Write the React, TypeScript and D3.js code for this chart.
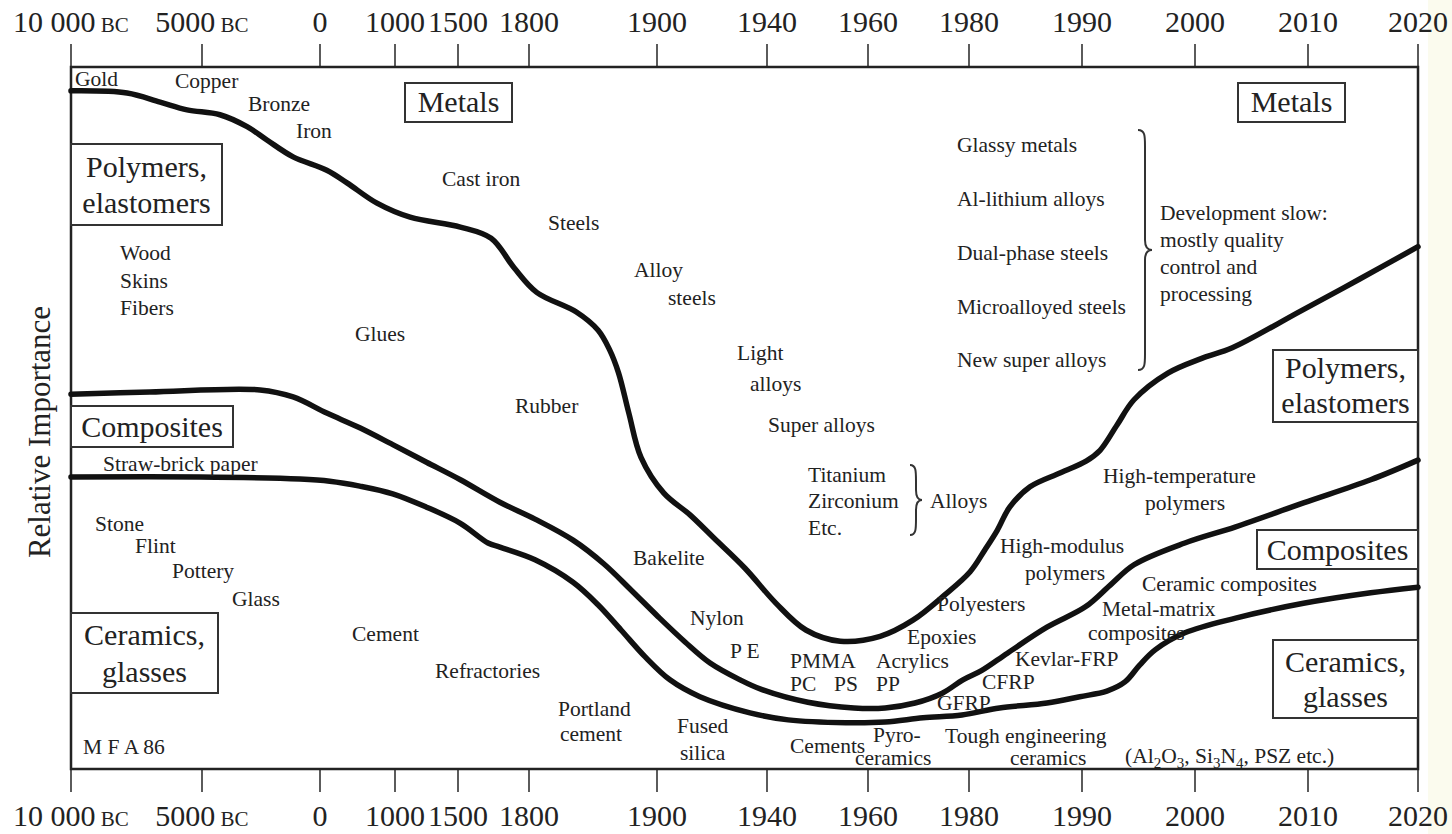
import React from 'react';
import * as d3 from 'd3';

// ---- axis ticks (years) ----
const tickYears = [-10000, -5000, 0, 1000, 1500, 1800, 1900, 1940, 1960, 1980, 1990, 2000, 2010, 2020];
const tickLabels = ['10 000', '5000', '0', '1000', '1500', '1800', '1900', '1940', '1960', '1980', '1990', '2000', '2010', '2020'];
const tickEras = ['BC', 'BC', '', '', '', '', '', '', '', '', '', '', '', ''];

// ---- boundary curves: [year, relative importance 0..100] ----
const metalsBoundary: [number, number][] = [
  [-10000, 96.6], [-7860, 96.3], [-6600, 95.0], [-5570, 93.9], [-4240, 93.2], [-3090, 91.5], [-2250, 89.6],
  [-1140, 87.2], [90, 85.3], [360, 83.5], [760, 80.6], [1120, 78.6], [1510, 77.2], [1640, 75.6], [1737, 71.4],
  [1806, 67.9], [1837, 65.1], [1854, 62.5], [1863, 59.7], [1870, 56.4], [1878, 50.7], [1887.5, 44.4],
  [1902.5, 39.3], [1912, 36.2], [1920.7, 32.9], [1932, 28.6], [1941.8, 23.6], [1947.7, 19.8], [1954.5, 18.2],
  [1962.4, 18.9], [1968.9, 21.2], [1975.2, 24.8], [1980.1, 28.1], [1981.4, 31.2], [1982.5, 34.0], [1983.6, 37.3],
  [1985.4, 40.2], [1988.1, 42.2], [1990.4, 43.9], [1991.6, 45.4], [1993.1, 49.0], [1994.6, 52.6], [1997.6, 56.4],
  [2000.6, 58.5], [2003.3, 60.0], [2009.3, 65.2], [2014.7, 69.8], [2020, 74.4],
];
const polymersBoundary: [number, number][] = [
  [-10000, 53.4], [-6990, 53.7], [-2540, 54.0], [-1140, 53.0], [90, 50.7], [530, 48.6], [970, 46.2], [1250, 43.7],
  [1510, 41.2], [1677, 38.0], [1804.7, 35.6], [1834.4, 32.6], [1858.6, 29.2], [1879.7, 25.5], [1900.4, 21.7],
  [1910.2, 18.1], [1919.3, 15.1], [1930.2, 12.7], [1938.2, 11.3], [1948.1, 9.5], [1957.2, 8.7], [1963.4, 8.7],
  [1969.3, 9.4], [1974.7, 10.8], [1978.8, 12.7], [1981.1, 14.0], [1983.4, 16.5], [1986.9, 20.2], [1990.3, 23.1],
  [1992.5, 26.2], [1994.6, 29.1], [1999.1, 32.2], [2003.6, 34.5], [2009.6, 37.9], [2015.7, 41.2], [2020, 44.0],
];
const compositesBoundary: [number, number][] = [
  [-10000, 41.6], [-5080, 41.6], [-850, 41.3], [130, 41.0], [530, 40.3], [970, 39.2], [1250, 37.3], [1510, 35.0],
  [1627, 32.2], [1677, 31.6], [1804.7, 29.8], [1834.4, 26.6], [1853.9, 23.4], [1871.9, 19.8], [1890.6, 16.0],
  [1904.7, 12.7], [1915.6, 10.3], [1933.8, 8.0], [1944.2, 7.0], [1955.6, 6.6], [1963.4, 6.7], [1970.9, 7.3],
  [1978.6, 7.7], [1982.7, 8.7], [1986.9, 9.4], [1989.8, 10.3], [1992.2, 11.1], [1993.8, 12.4], [1995.1, 14.8],
  [1996.5, 17.0], [1999.1, 19.4], [2003.6, 21.5], [2009.6, 23.6], [2015.7, 25.1], [2020, 25.9],
];

// ---- layout ----
const W = 1452, H = 834;
const L = 71, R = 1418, T = 67, B = 769;
const tickPx = [71, 202, 320, 395, 458, 529, 657, 767, 868, 969, 1082, 1195, 1308, 1418];
const FONT = '"Liberation Serif", "Times New Roman", serif';
const INK = '#222';

type Ann = { t: string; x: number; y: number };
const annotations: Ann[] = [
  { t: 'Gold', x: 75, y: 86 }, { t: 'Copper', x: 175, y: 88 }, { t: 'Bronze', x: 248, y: 111 }, { t: 'Iron', x: 296, y: 138 },
  { t: 'Cast iron', x: 442, y: 186 }, { t: 'Steels', x: 548, y: 230 }, { t: 'Alloy', x: 634, y: 277 }, { t: 'steels', x: 668, y: 305 },
  { t: 'Light', x: 737, y: 360 }, { t: 'alloys', x: 750, y: 391 }, { t: 'Super alloys', x: 768, y: 432 },
  { t: 'Titanium', x: 808, y: 482 }, { t: 'Zirconium', x: 808, y: 508 }, { t: 'Etc.', x: 808, y: 535 }, { t: 'Alloys', x: 930, y: 508 },
  { t: 'Glues', x: 355, y: 341 }, { t: 'Rubber', x: 515, y: 413 }, { t: 'Bakelite', x: 633, y: 565 }, { t: 'Nylon', x: 690, y: 625 },
  { t: 'P E', x: 730, y: 658 }, { t: 'PMMA', x: 790, y: 668 }, { t: 'PC', x: 790, y: 691 }, { t: 'PS', x: 834, y: 691 },
  { t: 'Acrylics', x: 876, y: 668 }, { t: 'PP', x: 876, y: 691 }, { t: 'Epoxies', x: 907, y: 644 }, { t: 'Polyesters', x: 937, y: 611 },
  { t: 'High-modulus', x: 1000, y: 553 }, { t: 'polymers', x: 1025, y: 580 },
  { t: 'High-temperature', x: 1103, y: 483 }, { t: 'polymers', x: 1145, y: 510 },
  { t: 'Glassy metals', x: 957, y: 152 }, { t: 'Al-lithium alloys', x: 957, y: 206 }, { t: 'Dual-phase steels', x: 957, y: 260 },
  { t: 'Microalloyed steels', x: 957, y: 314 }, { t: 'New super alloys', x: 957, y: 367 },
  { t: 'Development slow:', x: 1160, y: 220 }, { t: 'mostly quality', x: 1160, y: 247 }, { t: 'control and', x: 1160, y: 274 },
  { t: 'processing', x: 1160, y: 301 },
  { t: 'Ceramic composites', x: 1142, y: 591 }, { t: 'Metal-matrix', x: 1102, y: 616 }, { t: 'composites', x: 1088, y: 640 },
  { t: 'Kevlar-FRP', x: 1015, y: 666 }, { t: 'CFRP', x: 982, y: 689 }, { t: 'GFRP', x: 937, y: 710 },
  { t: 'Pyro-', x: 873, y: 742 }, { t: 'ceramics', x: 855, y: 765 }, { t: 'Tough engineering', x: 945, y: 743 }, { t: 'ceramics', x: 1010, y: 765 },
  { t: 'Cements', x: 790, y: 753 }, { t: 'Fused', x: 677, y: 733 }, { t: 'silica', x: 680, y: 760 },
  { t: 'Portland', x: 558, y: 716 }, { t: 'cement', x: 560, y: 741 }, { t: 'Refractories', x: 435, y: 678 }, { t: 'Cement', x: 352, y: 641 },
  { t: 'Wood', x: 120, y: 260 }, { t: 'Skins', x: 120, y: 288 }, { t: 'Fibers', x: 120, y: 315 },
  { t: 'Straw-brick paper', x: 103, y: 471 },
  { t: 'Stone', x: 95, y: 531 }, { t: 'Flint', x: 135, y: 553 }, { t: 'Pottery', x: 172, y: 578 }, { t: 'Glass', x: 232, y: 606 },
  { t: 'M F A 86', x: 83, y: 754 },
];

type Box = { lines: string[]; x: number; y: number; w: number; h: number; base: number[] };
const boxes: Box[] = [
  { lines: ['Metals'], x: 405, y: 83, w: 107, h: 39, base: [112] },
  { lines: ['Metals'], x: 1238, y: 83, w: 107, h: 39, base: [112] },
  { lines: ['Polymers,', 'elastomers'], x: 71, y: 144, w: 151, h: 81, base: [177, 213] },
  { lines: ['Composites'], x: 71, y: 406, w: 162, h: 41, base: [437] },
  { lines: ['Ceramics,', 'glasses'], x: 71, y: 613, w: 147, h: 80, base: [645, 682] },
  { lines: ['Polymers,', 'elastomers'], x: 1273, y: 350, w: 145, h: 72, base: [378, 413] },
  { lines: ['Composites'], x: 1257, y: 530, w: 161, h: 39, base: [560] },
  { lines: ['Ceramics,', 'glasses'], x: 1273, y: 640, w: 145, h: 78, base: [672, 707] },
];

function bracePath(x0: number, y1: number, y2: number, w: number) {
  const ym = (y1 + y2) / 2;
  const xm = x0 + w * 0.5;
  return `M${x0},${y1} C${x0 + w * 0.5},${y1} ${xm},${y1 + 6} ${xm},${y1 + 16} L${xm},${ym - 10} C${xm},${ym - 3} ${x0 + w * 0.7},${ym} ${x0 + w},${ym} C${x0 + w * 0.7},${ym} ${xm},${ym + 3} ${xm},${ym + 10} L${xm},${y2 - 16} C${xm},${y2 - 6} ${x0 + w * 0.5},${y2} ${x0},${y2}`;
}

export default function App() {
  const x = d3.scaleLinear().domain(tickYears).range(tickPx);
  const y = d3.scaleLinear().domain([0, 100]).range([B, T]);
  const line = d3.line<[number, number]>()
    .x((d) => x(d[0]))
    .y((d) => y(d[1]))
    .curve(d3.curveCatmullRom.alpha(0.5));
  const curves = [metalsBoundary, polymersBoundary, compositesBoundary];

  const tickLabel = (i: number, yy: number) => (
    <text key={'tl' + i + yy} x={x(tickYears[i])} y={yy} textAnchor="middle" fontSize={30} fontFamily={FONT} fill={INK}>
      {tickLabels[i]}
      {tickEras[i] ? <tspan fontSize={21}>{' ' + tickEras[i]}</tspan> : null}
    </text>
  );

  return (
    <svg width={W} height={H} style={{ position: 'absolute', left: 0, top: 0, background: '#fff' }}>
      <rect x={0} y={0} width={W} height={H} fill="#fff" />
      <rect x={1428} y={0} width={24} height={H} fill="#fbfbee" />
      {/* ticks */}
      {tickYears.map((t, i) => (
        <g key={'t' + i} stroke="#333" strokeWidth={1.6}>
          <line x1={x(t)} x2={x(t)} y1={44} y2={T} />
          <line x1={x(t)} x2={x(t)} y1={B} y2={792} />
        </g>
      ))}
      {tickYears.map((_, i) => tickLabel(i, 32))}
      {tickYears.map((_, i) => tickLabel(i, 826))}
      {/* frame */}
      <rect x={L} y={T} width={R - L} height={B - T} fill="none" stroke="#222" strokeWidth={2.5} />
      {/* y label */}
      <text transform={`translate(50,${(T + B) / 2 + 14}) rotate(-90)`} textAnchor="middle" fontSize={31} fontFamily={FONT} fill={INK}>
        Relative Importance
      </text>
      {/* curves */}
      {curves.map((c, i) => (
        <path key={'c' + i} d={line(c) || ''} fill="none" stroke="#111" strokeWidth={5.5} strokeLinecap="round" />
      ))}
      {/* boxes */}
      {boxes.map((b, i) => (
        <g key={'b' + i}>
          <rect x={b.x} y={b.y} width={b.w} height={b.h} fill="#fff" stroke="#333" strokeWidth={2} />
          {b.lines.map((ln, j) => (
            <text key={j} x={b.x + b.w / 2} y={b.base[j]} textAnchor="middle" fontSize={30} fontFamily={FONT} fill={INK}>
              {ln}
            </text>
          ))}
        </g>
      ))}
      {/* annotations */}
      {annotations.map((a, i) => (
        <text key={'a' + i} x={a.x} y={a.y} fontSize={21.5} fontFamily={FONT} fill={INK}>
          {a.t}
        </text>
      ))}
      <text x={1125} y={763} fontSize={21.5} fontFamily={FONT} fill={INK}>
        (Al<tspan fontSize={15} dy={5}>2</tspan><tspan dy={-5}>O</tspan><tspan fontSize={15} dy={5}>3</tspan>
        <tspan dy={-5}>, Si</tspan><tspan fontSize={15} dy={5}>3</tspan><tspan dy={-5}>N</tspan>
        <tspan fontSize={15} dy={5}>4</tspan><tspan dy={-5}>, PSZ etc.)</tspan>
      </text>
      {/* braces */}
      <path d={bracePath(910, 465, 535, 12)} fill="none" stroke="#333" strokeWidth={2} />
      <path d={bracePath(1138, 130, 370, 14)} fill="none" stroke="#333" strokeWidth={2} />
    </svg>
  );
}
